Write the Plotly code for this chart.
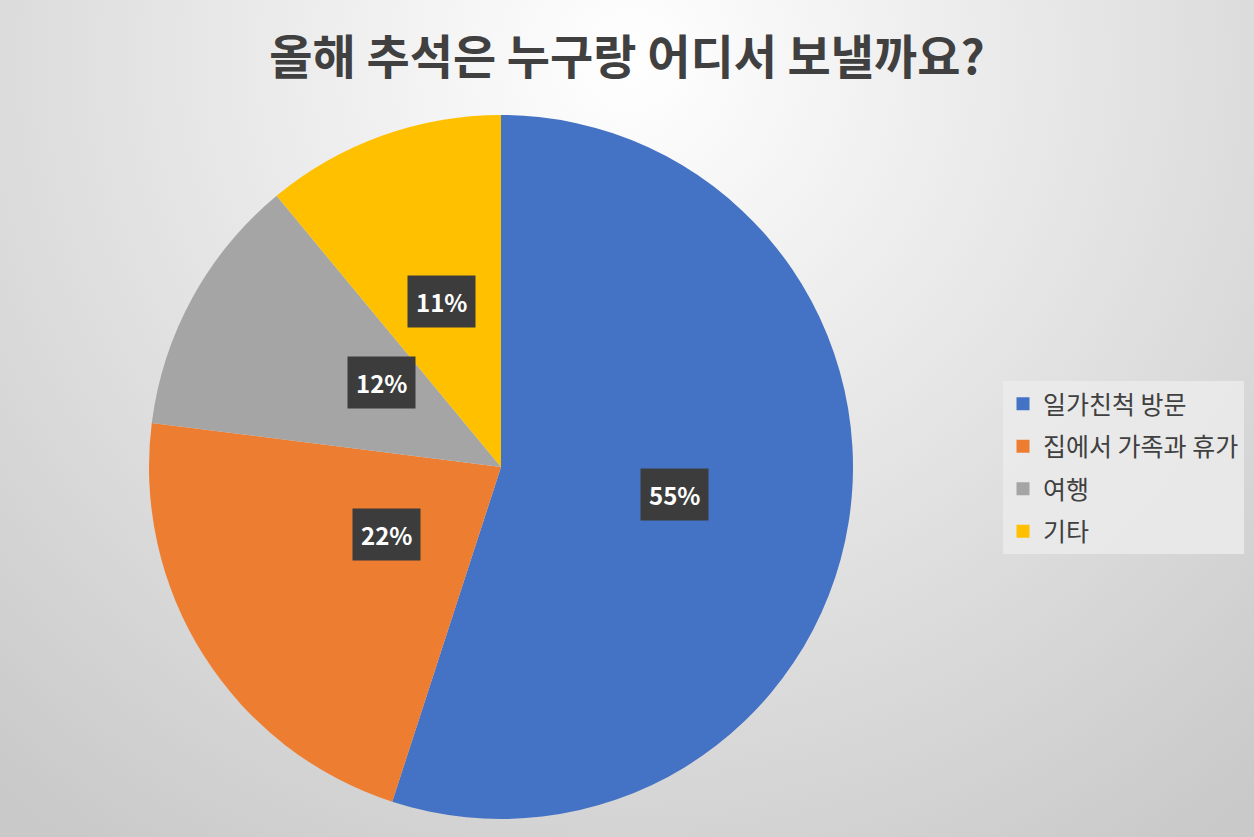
import base64
import numpy as np
import plotly.graph_objects as go

# 데이터
labels = ["일가친척 방문", "집에서 가족과 휴가", "여행", "기타"]
values = [55, 22, 12, 11]
colors = ["#4472C4", "#ED7D31", "#A5A5A5", "#FFC000"]
title = "올해 추석은 누구랑 어디서 보낼까요?"

W, H = 1254, 837
FONT = "Noto Sans CJK KR"

# 파이 위치 (픽셀 기준)
cx, cy, R = 501, 467, 352
dom_x = [(cx - R) / W, (cx + R) / W]
dom_y = [1 - (cy + R) / H, 1 - (cy - R) / H]

fig = go.Figure()
fig.add_trace(go.Pie(
    labels=labels, values=values, sort=False, direction="clockwise", rotation=0,
    marker=dict(colors=colors, line=dict(width=0)),
    textinfo="none", domain=dict(x=dom_x, y=dom_y), showlegend=False,
))

# 범례용 (항목 간격 조절 때문에 별도 trace)
for lab, col in zip(labels, colors):
    fig.add_trace(go.Scatter(
        x=[None], y=[None], mode="markers", name=lab, legendgroup=lab,
        marker=dict(symbol="square", size=13, color=col),
    ))

# 라벨 박스 (조각 중앙각, 반지름 0.5R)
total = sum(values)
cum = np.cumsum([0] + values[:-1])
for v, c in zip(values, cum):
    ang = np.deg2rad((c + v / 2) / total * 360)
    px_ = cx + 0.5 * R * np.sin(ang)
    py_ = cy - 0.5 * R * np.cos(ang)
    fig.add_annotation(
        x=px_ / W, y=1 - py_ / H, xref="paper", yref="paper",
        text=f"<b>{round(v / total * 100)}%</b>", showarrow=False,
        font=dict(family=FONT, size=24, color="white"),
        bgcolor="#3c3c3c", borderpad=8,
    )

# 배경 그라데이션
svg = f'''<svg xmlns="http://www.w3.org/2000/svg" width="{W}" height="{H}" viewBox="0 0 {W} {H}" preserveAspectRatio="none">
<defs><radialGradient id="g" gradientUnits="userSpaceOnUse" cx="630" cy="60" r="960">
<stop offset="0" stop-color="#ffffff"/><stop offset="1" stop-color="#c9c9c9"/></radialGradient></defs>
<rect width="{W}" height="{H}" fill="url(#g)"/></svg>'''
bg = "data:image/svg+xml;base64," + base64.b64encode(svg.encode()).decode()

fig.update_layout(
    width=W, height=H,
    margin=dict(l=0, r=0, t=0, b=0),
    paper_bgcolor="#e0e0e0",
    plot_bgcolor="rgba(0,0,0,0)",
    xaxis=dict(visible=False), yaxis=dict(visible=False),
    images=[dict(source=bg, xref="paper", yref="paper", x=0, y=1, sizex=1, sizey=1,
                 sizing="stretch", layer="below", xanchor="left", yanchor="top")],
    title=dict(text=f"<b>{title}</b>", x=0.5, xanchor="center", y=1 - 58 / H, yanchor="middle",
               font=dict(family=FONT, size=47, color="#404040")),
    legend=dict(
        x=1003 / W, y=1 - 381 / H, xanchor="left", yanchor="top",
        bgcolor="rgba(235,235,235,0.85)", borderwidth=0,
        font=dict(family=FONT, size=25, color="#404040"),
        tracegroupgap=7, itemwidth=30,
    ),
    showlegend=True,
)

fig.write_html("out.html", config={"displayModeBar": False},
               post_script="document.body.style.margin='0';")
